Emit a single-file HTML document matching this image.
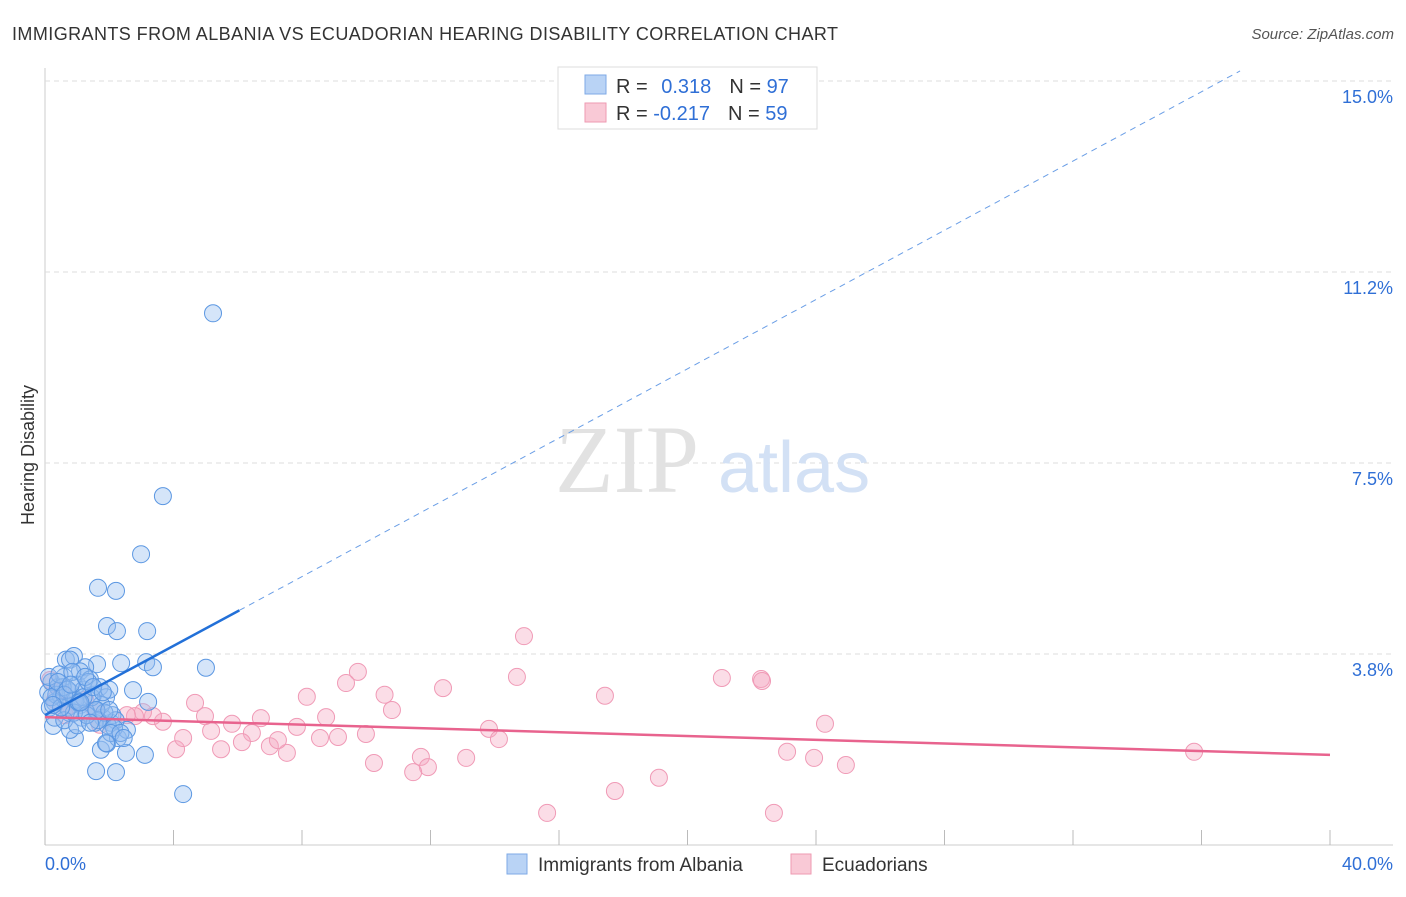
<!DOCTYPE html>
<html><head><meta charset="utf-8"><style>
body{margin:0;background:#fff;font-family:"Liberation Sans",sans-serif}
</style></head><body>
<svg id="c" width="1406" height="892" xmlns="http://www.w3.org/2000/svg">
<text x="12" y="40" font-size="18" fill="#333" textLength="826" lengthAdjust="spacing">IMMIGRANTS FROM ALBANIA VS ECUADORIAN HEARING DISABILITY CORRELATION CHART</text>
<text x="1394" y="39" font-size="15" fill="#555" text-anchor="end" font-style="italic">Source: ZipAtlas.com</text>
<text x="34" y="455" font-size="18" fill="#333" text-anchor="middle" transform="rotate(-90 34 455)">Hearing Disability</text>
<g id="grid"></g>
<text x="555" y="492" font-size="96" fill="#e2e2e2" font-family="Liberation Serif">ZIP</text>
<text x="718" y="492" font-size="72" fill="#d3e1f5">atlas</text>
<g id="pts"></g>
<g id="trend"></g>
<g>
<rect x="558" y="67" width="259" height="62" fill="#fff" stroke="#ddd"/>
<rect x="585" y="75" width="21" height="19" fill="#b9d3f5" stroke="#7ea9e6"/>
<rect x="585" y="103" width="21" height="19" fill="#f9c9d6" stroke="#ee9ab2"/>
<text x="616" y="93" font-size="20" fill="#333">R = <tspan fill="#2f6fd6" dx="8">0.318</tspan><tspan fill="#333" dx="18">N = </tspan><tspan fill="#2f6fd6">97</tspan></text>
<text x="616" y="120" font-size="20" fill="#333">R = <tspan fill="#2f6fd6">-0.217</tspan><tspan fill="#333" dx="18">N = </tspan><tspan fill="#2f6fd6">59</tspan></text>
</g>
<g>
<rect x="507" y="854" width="20" height="20" fill="#b9d3f5" stroke="#7ea9e6"/>
<text x="538" y="871" font-size="19" fill="#333">Immigrants from Albania</text>
<rect x="791" y="854" width="20" height="20" fill="#f9c9d6" stroke="#ee9ab2"/>
<text x="822" y="871" font-size="19" fill="#333">Ecuadorians</text>
</g>
</svg>
<script>
const yTicks=[3.75,7.5,11.25,15];
const yTickLabels=["3.8%","7.5%","11.2%","15.0%"];
const xTickVals=[0,4,8,12,16,20,24,28,32,36,40];
const blueX=[5.23,3.67,2.99,1.65,2.21,1.93,2.24,3.18,2.37,3.15,3.36,5.01,0.65,0.9,0.78,1.62,1.25,1.09,2.74,3.21,4.3,1.59,2.21,3.11,2.52,1.74,1.93,2.27,2.55,2.05,0.93,0.78,0.25,0.1,0.2,0.3,0.4,0.5,0.6,0.7,0.8,0.9,1.0,1.1,1.2,1.3,1.4,1.5,1.6,1.7,1.8,1.9,2.0,2.1,2.2,0.15,0.35,0.55,0.75,0.95,1.15,1.35,1.55,1.75,1.95,2.15,0.12,0.45,0.85,1.25,1.45,1.85,2.05,0.3,0.6,0.9,1.2,1.5,1.8,0.2,0.5,1.05,1.65,2.35,2.45,0.4,0.7,1.0,1.3,1.6,1.9,0.6,1.1,1.4,2.0,0.25,0.8];
const blueY=[10.44,6.85,5.71,5.05,4.99,4.3,4.2,4.2,3.57,3.59,3.49,3.48,3.64,3.71,3.64,3.55,3.49,3.41,3.04,2.81,1.0,1.45,1.43,1.77,1.81,1.87,1.99,2.1,2.26,2.4,2.1,2.26,2.34,3.0,3.2,2.8,3.1,2.9,3.3,2.7,3.0,2.85,3.15,2.75,3.05,2.6,3.25,2.95,2.65,3.1,2.5,2.9,3.05,2.55,2.45,2.7,2.95,3.1,2.6,2.85,2.5,3.2,2.4,2.75,2.35,2.3,3.3,3.35,3.4,3.3,2.9,2.6,2.2,2.5,2.45,2.6,2.9,3.1,3.0,2.9,2.7,2.8,2.45,2.2,2.1,3.2,3.05,2.35,2.55,2.65,2.0,2.95,2.8,2.4,2.65,2.75,3.15];
const pinkX=[14.91,9.74,9.37,8.15,10.57,10.8,12.39,14.69,17.43,21.07,22.29,22.32,24.28,35.77,23.1,23.94,24.93,19.11,17.74,15.63,22.69,13.82,14.13,11.7,11.92,11.46,13.11,10.24,9.99,9.12,8.56,8.75,7.84,7.53,7.0,7.25,6.72,6.44,6.13,5.82,5.48,5.17,4.98,4.67,4.08,4.3,3.67,3.36,3.05,2.8,2.55,0.16,0.47,0.31,0.78,1.25,1.56,0.62,1.71];
const pinkY=[4.1,3.4,3.18,2.91,2.95,2.65,3.08,3.3,2.93,3.28,3.26,3.22,2.38,1.83,1.83,1.71,1.57,1.32,1.06,0.63,0.63,2.28,2.08,1.73,1.53,1.43,1.71,1.61,2.18,2.12,2.1,2.51,2.32,1.81,1.94,2.06,2.49,2.2,2.02,2.38,1.88,2.24,2.53,2.79,1.88,2.1,2.42,2.53,2.61,2.53,2.55,3.24,3.04,2.85,2.75,2.85,2.65,2.55,2.36];
const blueTrend=[2.55,0.34];
const pinkTrend=[2.51,-0.0185];
const X=v=>45+v*32.125, Y=v=>845-v*50.93;
const NS="http://www.w3.org/2000/svg";
function mk(t,a,p){const e=document.createElementNS(NS,t);for(const k in a)e.setAttribute(k,a[k]);p.appendChild(e);return e;}
const g=document.getElementById('grid');
let ax=mk('line',{x1:45,y1:68,x2:45,y2:845,stroke:'#ccc'},g);


let bx=mk('line',{x1:45,y1:845,x2:1393,y2:845,stroke:'#ccc'},g);


yTicks.forEach((v,i)=>{
 let l=mk('line',{x1:45,y1:Y(v),x2:1393,y2:Y(v),stroke:'#ddd','stroke-dasharray':'5 4'},g);
 
 
 let t=mk('text',{x:1393,y:Y(v)+22,'font-size':18,fill:'#2f6fd6','text-anchor':'end'},g);t.textContent=yTickLabels[i];
 
 
});
xTickVals.forEach(v=>{
 let l=mk('line',{x1:X(v),y1:830,x2:X(v),y2:845,stroke:'#bbb'},g);
 
 
});
[[0,"0.0%","start",45],[40,"40.0%","end",1393]].forEach(d=>{
 let t=mk('text',{x:d[3],y:870,'font-size':18,fill:'#2f6fd6','text-anchor':d[2]},g);t.textContent=d[1];
 
 
});
const p=document.getElementById('pts');
pinkX.forEach((x,i)=>{let c=mk('circle',{cx:X(x),cy:Y(pinkY[i]),r:8.5,fill:'rgba(246,170,195,0.4)',stroke:'#f09ab6','stroke-width':1},p);
 
 });
blueX.forEach((x,i)=>{let c=mk('circle',{cx:X(x),cy:Y(blueY[i]),r:8.5,fill:'rgba(150,190,240,0.4)',stroke:'#5b97e2','stroke-width':1},p);
 
 });
const tr=document.getElementById('trend');
const f=(t,x)=>t[0]+t[1]*x;
let b1=mk('line',{x1:X(0),y1:Y(f(blueTrend,0)),x2:X(6.05),y2:Y(f(blueTrend,6.05)),stroke:'#2270d8','stroke-width':2.5},tr);


let b2=mk('line',{x1:X(6.05),y1:Y(f(blueTrend,6.05)),x2:X(37.2),y2:Y(f(blueTrend,37.2)),stroke:'#6a9ee6','stroke-width':1,'stroke-dasharray':'6 5'},tr);


let p1=mk('line',{x1:X(0),y1:Y(f(pinkTrend,0)),x2:X(40),y2:Y(f(pinkTrend,40)),stroke:'#e8638e','stroke-width':2.5},tr);


</script>
</body></html>
